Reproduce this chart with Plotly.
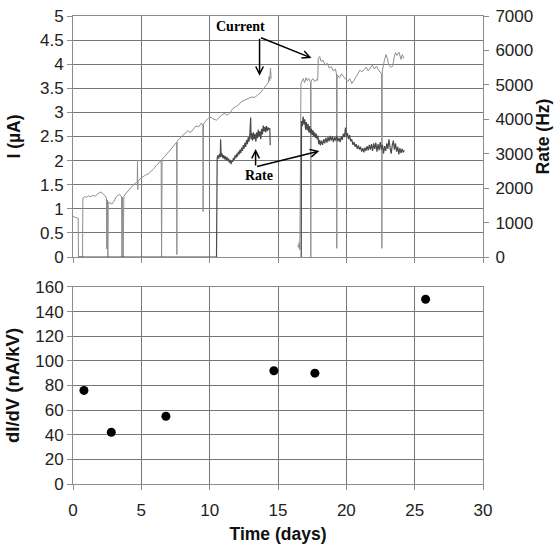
import plotly.graph_objects as go

# ---------------- data ----------------
# Current (µA) vs time (days); None marks a gap in the record
current_t = [0.0, 0.15, 0.3, 0.38, 0.40, 0.70, 0.72, 0.85, 1.0, 1.15, 1.3, 1.45, 1.6, 1.75, 1.9, 2.05,
             2.2, 2.35, 2.45, 2.46, 2.49, 2.52, 2.55, 2.58, 2.7, 2.85, 3.0, 3.2, 3.4, 3.55, 3.58, 3.62,
             3.67, 3.72, 3.9, 4.1, 4.3, 4.5, 4.7, 4.72, 4.74, 4.76, 4.9, 5.1, 5.3, 5.5, 5.7, 5.9, 6.1,
             6.3, 6.45, 6.48, 6.52, 6.7, 6.9, 7.1, 7.3, 7.5, 7.58, 7.6, 7.62, 7.8, 8.0, 8.2, 8.4, 8.6,
             8.8, 9.0, 9.2, 9.4, 9.5, 9.52, 9.55, 9.7, 9.9, 10.1, 10.3, 10.5, 10.7, 10.9, 11.1, 11.3,
             11.5, 11.7, 11.9, 12.1, 12.3, 12.5, 12.7, 12.9, 13.1, 13.3, 13.5, 13.7, 13.9, 14.1, 14.25,
             14.3, 14.35, 14.4, 14.45, 14.5,
             None,
             16.45, 16.5, 16.55, 16.6, 16.68, 16.75, 16.85, 16.95, 17.05, 17.15, 17.25, 17.35, 17.38,
             17.4, 17.42, 17.55, 17.7, 17.8, 17.9, 17.95, 18.05, 18.15, 18.3, 18.45, 18.6, 18.75, 18.9,
             19.05, 19.2, 19.28, 19.3, 19.33, 19.5, 19.65, 19.8, 19.95, 20.1, 20.25, 20.4, 20.55, 20.7,
             20.85, 21.0, 21.15, 21.3, 21.45, 21.6, 21.75, 21.9, 22.05, 22.2, 22.35, 22.5, 22.58, 22.6,
             22.63, 22.8, 22.9, 23.0, 23.1, 23.25, 23.4, 23.5, 23.6, 23.7, 23.85, 24.0, 24.1, 24.2]
current_ua = [0.84, 0.83, 0.82, 0.80, 0.0, 0.0, 1.22, 1.25, 1.24, 1.27, 1.25, 1.28, 1.26, 1.30, 1.33, 1.35,
              1.31, 1.27, 1.22, 0.17, 0.20, 1.18, 0.0, 1.14, 1.12, 1.10, 1.16, 1.26, 1.30, 1.25, 0.0, 1.24,
              0.0, 1.26, 1.33, 1.40, 1.47, 1.52, 1.55, 2.0, 1.4, 1.57, 1.62, 1.66, 1.70, 1.72, 1.77, 1.83, 1.90,
              1.97, 2.0, 0.0, 2.03, 2.08, 2.15, 2.22, 2.30, 2.36, 2.38, 0.05, 2.40, 2.46, 2.52, 2.58, 2.62, 2.58,
              2.65, 2.72, 2.70, 2.78, 2.72, 0.94, 2.76, 2.82, 2.88, 2.90, 2.86, 2.84, 2.90, 2.95, 2.98, 2.94,
              3.0, 3.08, 3.12, 3.15, 3.22, 3.25, 3.27, 3.30, 3.32, 3.31, 3.36, 3.40, 3.48, 3.55, 3.58,
              3.62, 3.75, 3.66, 3.92, 3.70,
              None,
              0.25, 0.20, 0.30, 0.15, 3.60, 3.66, 3.70, 3.62, 3.72, 3.66, 3.70, 3.64, 3.62,
              0.0, 3.65, 3.70, 3.64, 3.68, 3.66, 4.12, 4.16, 4.06, 4.08, 3.98, 4.02, 3.92, 3.95,
              3.86, 3.90, 3.80, 0.18, 3.78, 3.72, 3.80, 3.74, 3.68, 3.64, 3.70, 3.60, 3.66, 3.74,
              3.82, 3.88, 3.84, 3.88, 3.94, 3.86, 3.92, 3.98, 3.90, 3.96, 3.88, 3.84, 3.80, 0.18,
              3.86, 4.10, 4.20, 4.12, 3.98, 3.94, 3.96, 4.15, 4.24, 4.18, 4.25, 4.10, 4.20, 4.12]

# Count rate (Hz) vs time (days)
rate_t = [0.4, 10.5,
          10.55, 10.6, 10.66, 10.72, 10.78, 10.8, 10.84, 10.9, 10.96, 11.02,
          11.08, 11.14, 11.2, 11.26, 11.32, 11.38, 11.44, 11.5, 11.56, 11.62,
          11.68, 11.74, 11.8, 11.86, 11.92, 11.98, 12.04, 12.1, 12.16, 12.22,
          12.28, 12.34, 12.4, 12.46, 12.52, 12.58, 12.64, 12.7, 12.76, 12.82,
          12.88, 12.94, 13.0, 13.03, 13.08, 13.14, 13.2, 13.26, 13.32, 13.38,
          13.44, 13.5, 13.56, 13.62, 13.68, 13.74, 13.8, 13.86, 13.92, 13.98,
          14.04, 14.1, 14.16, 14.22, 14.28, 14.34, 14.4, 14.43,
          None,
          16.7, 16.72,
          16.78, 16.84, 16.9, 16.96, 17.02, 17.08, 17.14, 17.2, 17.26, 17.32,
          17.38, 17.44, 17.5, 17.56, 17.62, 17.68, 17.74, 17.8, 17.86, 17.92,
          17.98, 18.04, 18.1, 18.18, 18.26, 18.34, 18.42, 18.5, 18.58, 18.66,
          18.74, 18.82, 18.9, 18.98, 19.06, 19.14, 19.22, 19.3, 19.38, 19.46,
          19.54, 19.62, 19.7, 19.78, 19.86, 19.94, 20.0, 20.08, 20.16, 20.24,
          20.32, 20.4, 20.48, 20.56, 20.64, 20.72, 20.8, 20.88, 20.96, 21.04,
          21.12, 21.2, 21.28, 21.36, 21.44, 21.52, 21.6, 21.68, 21.76, 21.84,
          21.92, 22.0, 22.08, 22.16, 22.24, 22.32, 22.4, 22.48, 22.56, 22.64,
          22.72, 22.8, 22.88, 22.96, 23.04, 23.12, 23.2, 23.28, 23.36, 23.44,
          23.52, 23.6, 23.68, 23.76, 23.84, 23.92, 24.0, 24.08, 24.16, 24.24]
rate_hz = [0, 0,
           2880, 2950, 2860, 3000, 2900, 3420, 2920, 3010, 2870, 2960,
           2840, 2930, 2820, 2900, 2790, 2860, 2740, 2820, 2700, 2790,
           2760, 2880, 2820, 2950, 2870, 3000, 2920, 3060, 2980, 3120,
           3020, 3180, 3080, 3250, 3150, 3320, 3200, 3400, 3280, 3480,
           3350, 3560, 4050, 3420, 3600, 3380, 3620, 3420, 3580, 3350,
           3620, 3450, 3700, 3500, 3650, 3420, 3720, 3560, 3820, 3650,
           3780, 3620, 3800, 3660, 3760, 3700, 3740, 3250,
           None,
           0, 3950,
           3800, 4080, 3850, 4000, 3700, 3920, 3680, 3860, 3620, 3800,
           3580, 3720, 3540, 3680, 3500, 3620, 3460, 3580, 3420, 3520,
           3280, 3400, 3240, 3380, 3260, 3420, 3300, 3460, 3320, 3480,
           3360, 3520, 3380, 3500, 3340, 3480, 3380, 3520, 3360, 3460,
           3340, 3500, 3400, 3580, 3480, 3760, 3500, 3600, 3420, 3540,
           3360, 3420, 3260, 3340, 3200, 3280, 3140, 3240, 3120, 3200,
           3060, 3160, 3040, 3180, 3080, 3220, 3100, 3260, 3120, 3280,
           3080, 3300, 3140, 3320, 3060, 3280, 3100, 3340, 3120, 3260,
           3000, 3220, 3080, 3300, 3140, 3420, 3180, 3000, 3240, 3380,
           3120, 3300, 3060, 3200, 2980, 3160, 3020, 3140, 3040, 3100]

# dI/dV measurements
didv_t = [0.8, 2.8, 6.8, 14.7, 17.7, 25.8]
didv_val = [76, 42, 55, 92, 90, 150]

x_ticks = [0, 5, 10, 15, 20, 25, 30]
i_ticks = [0, 0.5, 1, 1.5, 2, 2.5, 3, 3.5, 4, 4.5, 5]
rate_ticks = [0, 1000, 2000, 3000, 4000, 5000, 6000, 7000]
didv_ticks = [0, 20, 40, 60, 80, 100, 120, 140, 160]

# ---------------- figure ----------------
FONT = "Liberation Sans, Arial, sans-serif"
SERIF = "Liberation Serif, Times New Roman, serif"
GRID = "#777777"
LINE = "#8c8c8c"
TICKFONT = dict(family=FONT, size=17, color="#222222")
TITLEFONT = dict(family=FONT, size=17.5, color="#111111")

fig = go.Figure()
fig.add_trace(go.Scatter(x=current_t, y=current_ua, mode="lines", xaxis="x", yaxis="y",
                         line=dict(color="#8e8e8e", width=1), connectgaps=False, name="Current"))
fig.add_trace(go.Scatter(x=rate_t, y=rate_hz, mode="lines", xaxis="x", yaxis="y2",
                         line=dict(color="#4a4a4a", width=1.2), connectgaps=False, name="Rate"))
fig.add_trace(go.Scatter(x=didv_t, y=didv_val, mode="markers", xaxis="x2", yaxis="y3",
                         marker=dict(color="black", size=9), name="dI/dV"))

axis_common = dict(showgrid=True, gridcolor=GRID, gridwidth=1, showline=True, linecolor=LINE,
                   linewidth=1, ticks="outside", ticklen=5, tickcolor=LINE, tickfont=TICKFONT,
                   zeroline=False, automargin=False)

fig.update_layout(
    width=558, height=544,
    margin=dict(l=73, r=75, t=16, b=60),
    paper_bgcolor="white", plot_bgcolor="white",
    showlegend=False,
    font=dict(family=FONT),
    xaxis=dict(domain=[0, 1], range=[0, 30], anchor="y", tickvals=x_ticks, showticklabels=False,
               mirror=True, **axis_common),
    yaxis=dict(domain=[0.485, 1], range=[0, 5], tickvals=i_ticks, ticktext=[f"{v:g}" for v in i_ticks],
               title=dict(text="<b>I (µA)</b>", font=TITLEFONT, standoff=14), **axis_common),
    yaxis2=dict(overlaying="y", side="right", range=[0, 7000], tickvals=rate_ticks,
                showgrid=False, showline=True, linecolor=LINE, ticks="outside", ticklen=5,
                tickcolor=LINE, tickfont=TICKFONT, zeroline=False, ticklabelstandoff=3,
                automargin=False,
                title=dict(text="<b>Rate (Hz)</b>", font=TITLEFONT, standoff=4)),
    xaxis2=dict(domain=[0, 1], range=[0, 30], anchor="y3", tickvals=x_ticks, mirror=True,
                ticklabelstandoff=6,
                title=dict(text="<b>Time (days)</b>", font=TITLEFONT, standoff=10), **axis_common),
    yaxis3=dict(domain=[0, 0.421], range=[0, 160], tickvals=didv_ticks, mirror=True,
                title=dict(text="<b>dI/dV (nA/kV)</b>", font=dict(family=FONT, size=18.5, color="#111111"),
                           standoff=10), **axis_common),
)

# annotation labels with arrows (data coordinates of the top panel)
fig.add_annotation(x=12.26, y=4.79, xref="x", yref="y", text="<b>Current</b>", showarrow=False,
                   font=dict(family=SERIF, size=14, color="black"))
fig.add_annotation(x=13.58, y=1.70, xref="x", yref="y", text="<b>Rate</b>", showarrow=False,
                   font=dict(family=SERIF, size=14, color="black"))
arrows = [((13.65, 4.56), (13.65, 3.76)),
          ((13.65, 4.56), (17.45, 4.13)),
          ((13.36, 1.87), (13.36, 2.24)),
          ((13.36, 1.87), (18.03, 2.20))]
for (tx, ty), (hx, hy) in arrows:
    fig.add_annotation(x=hx, y=hy, ax=tx, ay=ty, xref="x", yref="y", axref="x", ayref="y",
                       text="", showarrow=True, arrowhead=5, arrowsize=1, arrowwidth=1.5,
                       arrowcolor="black", standoff=0, startstandoff=0)

fig.write_html("out.html")
